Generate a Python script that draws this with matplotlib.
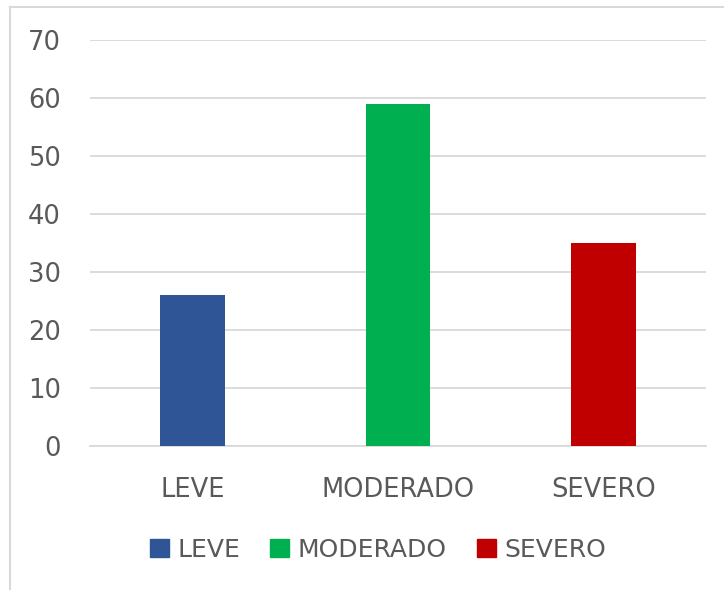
import matplotlib
matplotlib.use("Agg")
import matplotlib.pyplot as plt
from matplotlib.lines import Line2D
from matplotlib.patches import Patch

categories = ["LEVE", "MODERADO", "SEVERO"]
values = [26, 59, 35]
colors = ["#2F5597", "#00B050", "#C00000"]
yticks = [0, 10, 20, 30, 40, 50, 60, 70]

W, H = 724, 590
fig = plt.figure(figsize=(W/100, H/100), dpi=100)
plt.rcParams['font.family'] = ['DejaVu Sans']

ax = fig.add_axes([90/W, 1-446/H, (706-90)/W, (446-40)/H])
x = list(range(len(categories)))
ax.bar(x, values, width=0.316, color=colors, zorder=3)
ax.set_xlim(-0.5, 2.5)
ax.set_ylim(0, 70)
ax.set_yticks(yticks)
ax.set_xticks(x)
ax.set_xticklabels(categories)
ax.grid(axis='y', color='#D9D9D9', linewidth=1.3, zorder=0)
for s in ['top', 'right', 'left']:
    ax.spines[s].set_visible(False)
ax.spines['bottom'].set_color('#D9D9D9')
ax.spines['bottom'].set_linewidth(1.3)
ax.tick_params(axis='both', length=0, labelsize=18.5, labelcolor='#595959')
ax.tick_params(axis='y', pad=21)
ax.tick_params(axis='x', pad=22)

handles = [Patch(color=c, label=l) for c, l in zip(colors, categories)]
fig.legend(handles=handles, loc='center', bbox_to_anchor=(378/W, 1-550/H), ncol=3,
           frameon=False, fontsize=18, labelcolor='#595959', handlelength=0.75,
           handleheight=0.75, handletextpad=0.35, columnspacing=1.2)

fig.add_artist(Line2D([10/W, 10/W], [0, 1-7/H], color='#D9D9D9', linewidth=1.5, transform=fig.transFigure))
fig.add_artist(Line2D([10/W, 1], [1-7/H, 1-7/H], color='#D9D9D9', linewidth=1.5, transform=fig.transFigure))

fig.savefig("out.png", dpi=100)
